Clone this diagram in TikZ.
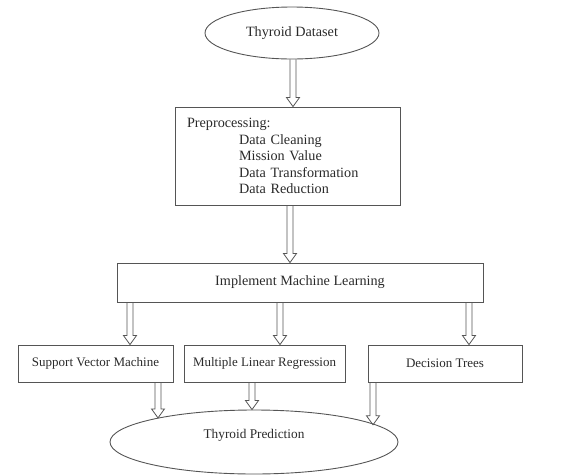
\documentclass[tikz,border=0pt]{standalone}
\usepackage{fontspec}
\setmainfont{Liberation Serif}
\usetikzlibrary{calc,shapes.geometric,backgrounds}
\definecolor{linec}{HTML}{555555}
\definecolor{textc}{HTML}{2A2A2A}
\tikzset{
  every node/.style={text=textc, font=\fontsize{13}{16.5}\selectfont},
  bigfont/.style={font=\fontsize{14.2}{16.5}\selectfont},
  boxn/.style={draw=linec, line width=0.9pt, rectangle, inner sep=0pt},
  ell/.style={draw=linec, line width=0.9pt, ellipse, inner sep=0pt},
  barrow/.style={draw=linec, line width=0.8pt,
    to path={let \p1=(\tikztostart), \p2=(\tikztotarget) in
      (\x1-3pt,\y1) -- (\x1-3pt,\y2+9pt) -- (\x1-6.5pt,\y2+9pt) -- (\x1,\y2)
      -- (\x1+6.5pt,\y2+9pt) -- (\x1+3pt,\y2+9pt) -- (\x1+3pt,\y1)}}
}
\begin{document}
\begin{tikzpicture}[x=1pt,y=-1pt]
\useasboundingbox (0,0) rectangle (582,475);
% nodes
\node[ell, bigfont, minimum width=174pt, minimum height=52pt] (ds) at (292,33) {Thyroid Dataset};
\node[boxn, bigfont, minimum width=225pt, minimum height=98pt, text width=201pt, align=left] (pre) at (287.5,156)
  {Preprocessing:\\
   \hspace*{52pt}Data Cleaning\\
   \hspace*{52pt}Mission Value\\
   \hspace*{52pt}Data Transformation\\
   \hspace*{52pt}Data Reduction};
\node[boxn, bigfont, minimum width=366pt, minimum height=39pt] (iml) at (300,282.5) {Implement Machine Learning};
\node[boxn, minimum width=155pt, minimum height=37pt] (svm) at (95.5,363.5) {Support Vector Machine};
\node[boxn, minimum width=161pt, minimum height=37pt] (mlr) at (264.5,363.5) {Multiple Linear Regression};
\node[boxn, minimum width=154pt, minimum height=37pt] (dt) at (445,363.5) {Decision Trees};
\node[ell, minimum width=288pt, minimum height=64pt,
  label={[yshift=7pt, font=\fontsize{13.3}{16}\selectfont]center:Thyroid Prediction}] (pred) at (254,442) {};
% x positions of the arrows
\coordinate (xa) at (293,0);
\coordinate (xb) at (290,0);
\coordinate (xc) at (130,0);
\coordinate (xd) at (280,0);
\coordinate (xe) at (469,0);
\coordinate (xf) at (158,0);
\coordinate (xg) at (252,0);
\coordinate (xh) at (373,0);
% arrows
\draw[barrow] (ds.south -| xa) to (pre.north -| xa);
\draw[barrow] (pre.south -| xb) to (iml.north -| xb);
\draw[barrow] (iml.south -| xc) to (svm.north -| xc);
\draw[barrow] (iml.south -| xd) to (mlr.north -| xd);
\draw[barrow] (iml.south -| xe) to (dt.north -| xe);
\draw[barrow] (svm.south -| xf) to (pred.166);
\draw[barrow] (mlr.south -| xg) to (pred.north);
\draw[barrow] (dt.south -| xh) to (pred.8.6);
\end{tikzpicture}
\end{document}
